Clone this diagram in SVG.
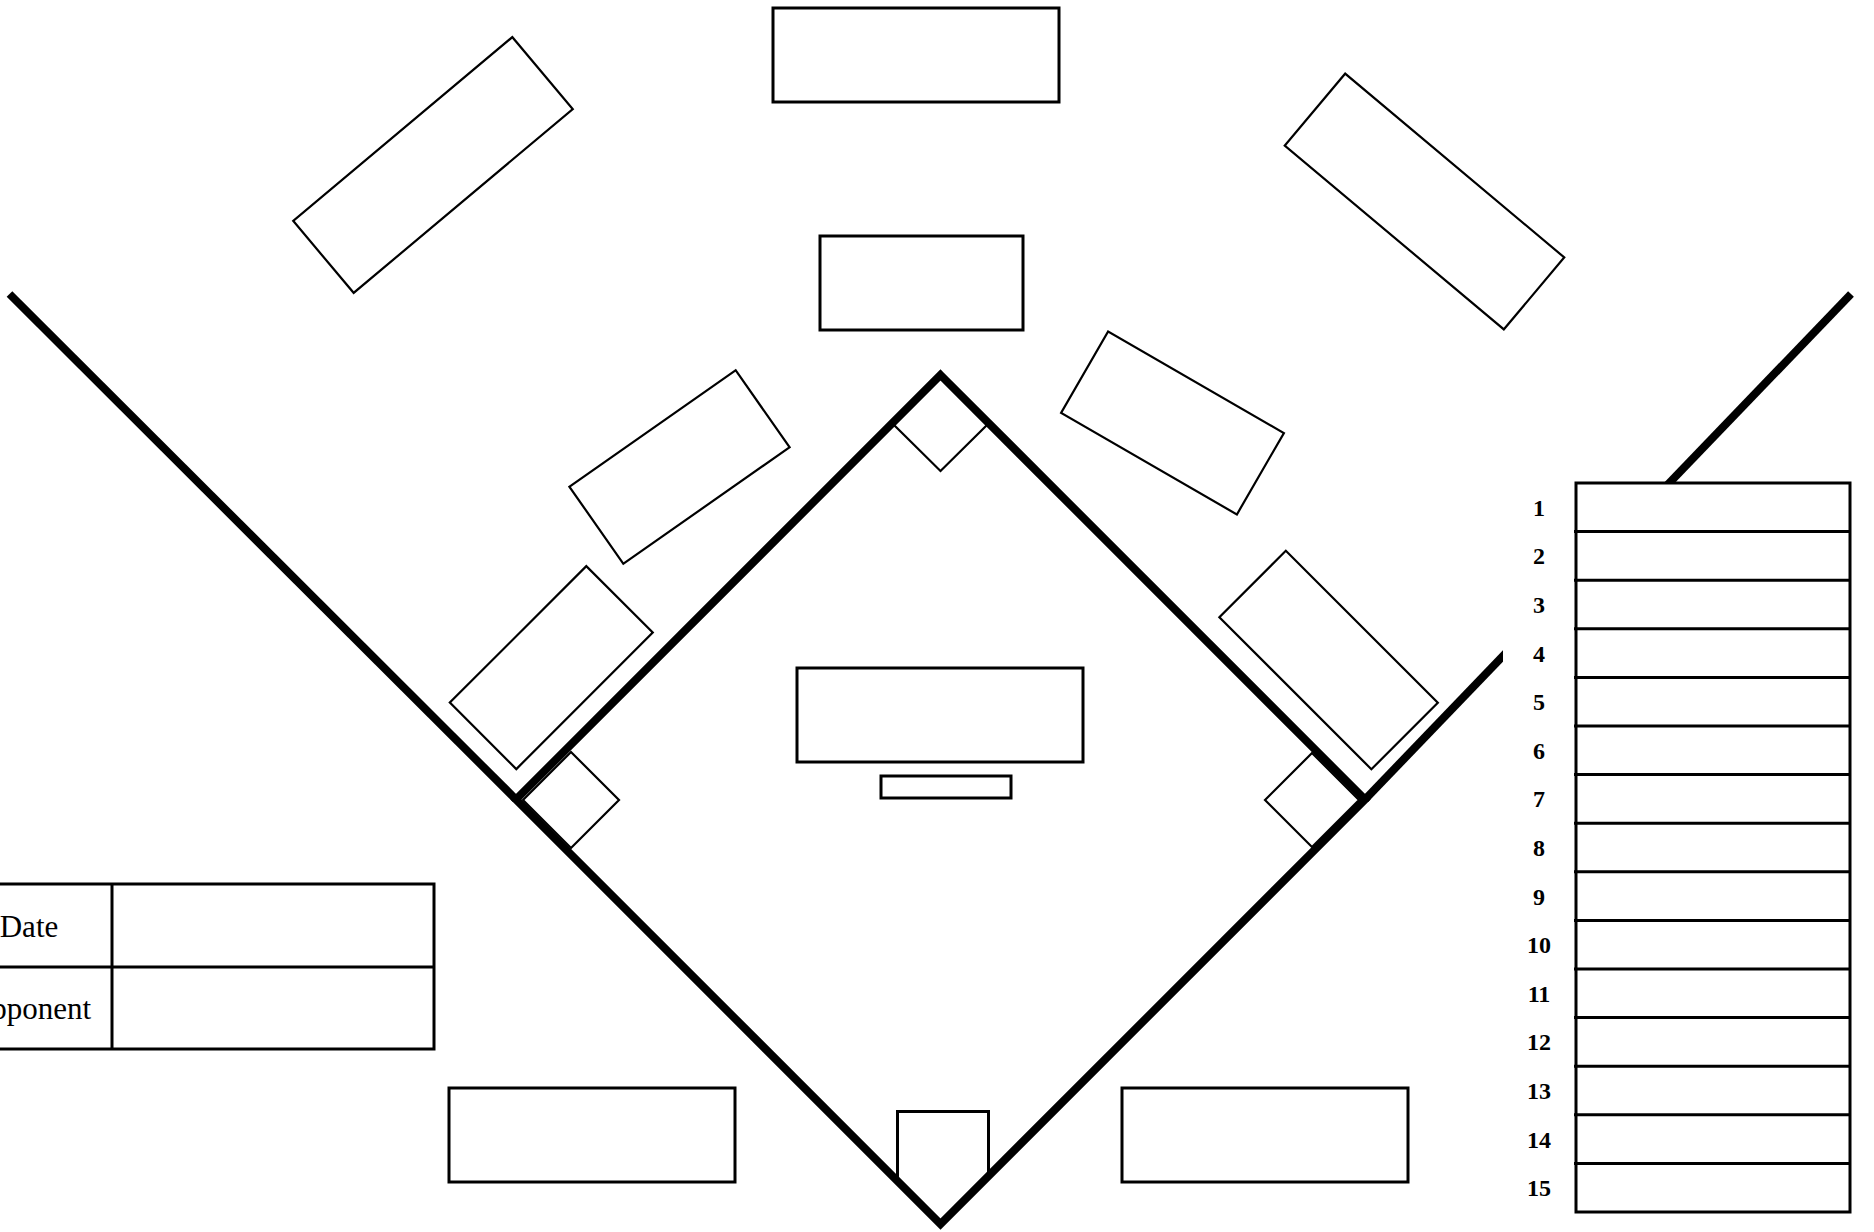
<svg xmlns="http://www.w3.org/2000/svg" width="1874" height="1232" viewBox="0 0 1874 1232">
<style>
.box{fill:none;stroke:#000;stroke-width:3}
.rot{fill:none;stroke:#000;stroke-width:2.2}
.base{fill:none;stroke:#000;stroke-width:2.2}
.thick{fill:none;stroke:#000;stroke-width:8;stroke-linecap:butt}
.num{font-family:"Liberation Serif","Times New Roman",serif;font-weight:bold;font-size:24px;text-anchor:middle;fill:#000}
.lbl{font-family:"Liberation Serif","Times New Roman",serif;font-size:31px;text-anchor:middle;fill:#000}
.row{stroke:#000;stroke-width:3}
</style>
<rect x="0" y="0" width="1874" height="1232" fill="#fff"/>

<g id="field-lines">
  <line class="thick" x1="9.5" y1="294" x2="516" y2="799.5"/>
  <line class="thick" x1="1365" y1="799.5" x2="1851" y2="294"/>
  <polygon class="thick" points="940.5,375 1365,799.5 940.5,1224 516,799.5" stroke-linejoin="miter"/>
</g>

<g id="bases">
  <polygon id="second-base" class="base" points="940.5,377 988,424 940.5,471 893,424"/>
  <polygon id="third-base" class="base" points="523,800 571,752 619,800 571,848"/>
  <polygon id="first-base" class="base" points="1265,800 1312,753 1359,800 1312,847"/>
  <path id="home-box" class="box" d="M897.5,1177 V1111.5 H988.5 V1173"/>
</g>

<g id="positions">
  <rect id="center-field" class="box" x="773" y="8" width="286" height="94"/>
  <rect id="left-field" class="rot" x="-143" y="-47" width="286" height="94" transform="translate(433 165) rotate(-40)"/>
  <rect id="right-field" class="rot" x="-143" y="-47" width="286" height="94" transform="translate(1424.5 201.5) rotate(40)"/>
  <rect id="second-pos" class="box" x="820" y="236" width="203" height="94"/>
  <rect id="shortstop" class="rot" x="-101.5" y="-47" width="203" height="94" transform="translate(679.5 467) rotate(-35)"/>
  <rect id="second-right" class="rot" x="-101.5" y="-47" width="203" height="94" transform="translate(1172.5 423) rotate(30)"/>
  <rect id="third-pos" class="rot" x="-96.5" y="-47" width="193" height="94" transform="translate(551.3 667.6) rotate(-45)"/>
  <rect id="first-pos" class="rot" x="-107.5" y="-47" width="215" height="94" transform="translate(1328.6 660) rotate(45)"/>
  <rect id="pitcher" class="box" x="797" y="668" width="286" height="94"/>
  <rect id="rubber" class="box" x="881" y="776" width="130" height="22"/>
  <rect id="bench-left" class="box" x="449" y="1088" width="286" height="94"/>
  <rect id="bench-right" class="box" x="1122" y="1088" width="286" height="94"/>
</g>

<g id="game-info">
  <rect x="-10" y="884" width="444" height="165" fill="none" stroke="#000" stroke-width="3"/>
  <line x1="-10" y1="967" x2="434" y2="967" stroke="#000" stroke-width="3"/>
  <line x1="112" y1="884" x2="112" y2="1049" stroke="#000" stroke-width="3"/>
  <text class="lbl" x="29" y="937">Date</text>
  <text class="lbl" x="30" y="1019">Opponent</text>
</g>

<g id="roster">
  <rect x="1503" y="483" width="350" height="732" fill="#fff"/>
  <rect class="box" x="1576" y="483" width="274" height="729"/>
  <line class="row" x1="1574" y1="531.6" x2="1850" y2="531.6"/>
  <line class="row" x1="1574" y1="580.2" x2="1850" y2="580.2"/>
  <line class="row" x1="1574" y1="628.8" x2="1850" y2="628.8"/>
  <line class="row" x1="1574" y1="677.4" x2="1850" y2="677.4"/>
  <line class="row" x1="1574" y1="726" x2="1850" y2="726"/>
  <line class="row" x1="1574" y1="774.6" x2="1850" y2="774.6"/>
  <line class="row" x1="1574" y1="823.2" x2="1850" y2="823.2"/>
  <line class="row" x1="1574" y1="871.8" x2="1850" y2="871.8"/>
  <line class="row" x1="1574" y1="920.4" x2="1850" y2="920.4"/>
  <line class="row" x1="1574" y1="969" x2="1850" y2="969"/>
  <line class="row" x1="1574" y1="1017.6" x2="1850" y2="1017.6"/>
  <line class="row" x1="1574" y1="1066.2" x2="1850" y2="1066.2"/>
  <line class="row" x1="1574" y1="1114.8" x2="1850" y2="1114.8"/>
  <line class="row" x1="1574" y1="1163.4" x2="1850" y2="1163.4"/>
  <text class="num" x="1539" y="515.8">1</text>
  <text class="num" x="1539" y="564.4">2</text>
  <text class="num" x="1539" y="613">3</text>
  <text class="num" x="1539" y="661.6">4</text>
  <text class="num" x="1539" y="710.2">5</text>
  <text class="num" x="1539" y="758.8">6</text>
  <text class="num" x="1539" y="807.4">7</text>
  <text class="num" x="1539" y="856">8</text>
  <text class="num" x="1539" y="904.6">9</text>
  <text class="num" x="1539" y="953.2">10</text>
  <text class="num" x="1539" y="1001.8">11</text>
  <text class="num" x="1539" y="1050.4">12</text>
  <text class="num" x="1539" y="1099">13</text>
  <text class="num" x="1539" y="1147.6">14</text>
  <text class="num" x="1539" y="1196.2">15</text>
</g>
</svg>
